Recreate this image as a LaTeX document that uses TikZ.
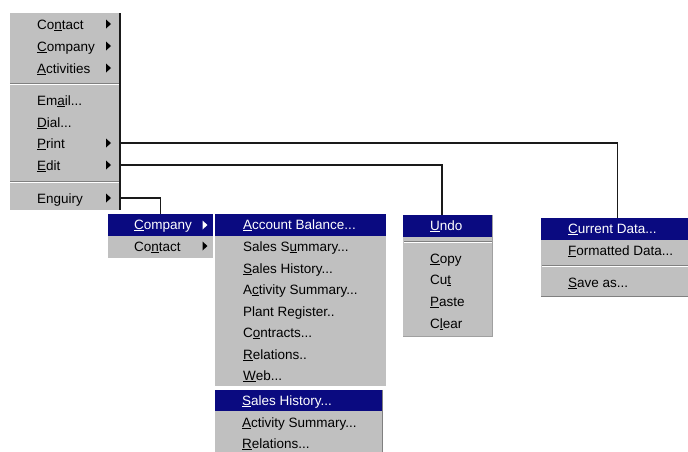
\documentclass[tikz,border=0pt]{standalone}
\usepackage{fontspec}
\setmainfont{Liberation Sans}
\definecolor{mgray}{HTML}{C0C0C0}
\definecolor{mdark}{HTML}{808080}
\definecolor{mmid}{HTML}{A0A0A0}
\definecolor{navy}{HTML}{0A0A80}
\definecolor{wire}{HTML}{1A1A1A}
\newcommand\ak[1]{\underline{#1}}
\tikzset{
  menu/.style={fill=mgray, draw=none, inner sep=0pt, anchor=north west},
  hilite/.style={fill=navy, draw=none, inner sep=0pt, anchor=north west},
  item/.style={anchor=base west, inner sep=0pt, font=\fontsize{13.5}{14}\selectfont, text=black},
  hitem/.style={item, text=white},
  wireline/.style={draw=wire, line width=1.1pt},
  sepdark/.style={draw=mdark, line width=0.8pt},
  seplight/.style={draw=white, line width=0.8pt},
  shade/.style={draw=mdark, line width=1pt},
  softshade/.style={draw=mmid, line width=1pt},
}
\newcommand\subarr[3]{\fill[#3] (#1-2.5,#2-4.5) -- (#1+2.5,#2) -- (#1-2.5,#2+4.5) -- cycle;}
\begin{document}
\begin{tikzpicture}[x=1pt,y=-1pt]
\useasboundingbox (0,0) rectangle (688,451);
\clip (0,0) rectangle (688,451);
\fill[white] (0,0) rectangle (688,451);

% ---------- main menu ----------
\node[menu, minimum width=110pt, minimum height=197pt] (main) at (10,13) {};
\draw[wireline] (120,13) -- (120,210);
\draw[sepdark] (10,83.5) -- (119,83.5);
\draw[seplight] (10,84.6) -- (119,84.6);
\draw[sepdark] (10,181.5) -- (119,181.5);
\draw[seplight] (10,182.6) -- (119,182.6);
\node[item] (mContact) at (37,29) {Co\ak{n}tact};
\node[item] (mCompany) at (37,51) {\ak{C}ompany};
\node[item] (mActivities) at (37,73) {\ak{A}ctivities};
\node[item] (mEmail) at (37,105) {Em\ak{a}il...};
\node[item] (mDial) at (37,127) {\ak{D}ial...};
\node[item] (mPrint) at (37,148) {\ak{P}rint};
\node[item] (mEdit) at (37,170) {\ak{E}dit};
\node[item] (mEnquiry) at (37,203) {Enguiry};
\subarr{108.5}{24}{black}
\subarr{108.5}{46}{black}
\subarr{108.5}{68}{black}
\subarr{108.5}{143}{black}
\subarr{108.5}{165}{black}
\subarr{108.5}{198}{black}
\coordinate (printR) at (120,143);
\coordinate (editR) at (120,165);
\coordinate (enqR) at (120,198);

% ---------- Company / Contact submenu ----------
\node[menu, minimum width=105pt, minimum height=44pt] (sub1) at (108,214) {};
\node[hilite, minimum width=105pt, minimum height=22pt] (sub1hi) at (108,214) {};
\node[hitem] (sCompany) at (134,229) {\ak{C}ompany};
\node[item] (sContact) at (134,251) {Co\ak{n}tact};
\subarr{205}{225}{white}
\subarr{205}{246}{black}

% ---------- Company actions submenu ----------
\node[menu, minimum width=171pt, minimum height=172pt] (sub2) at (215,214) {};
\node[hilite, minimum width=171pt, minimum height=22pt] (sub2hi) at (215,214) {};
\node[hitem] (cAccount) at (243,229) {\ak{A}ccount Balance...};
\node[item] (cSalesSum) at (243,251) {Sales S\ak{u}mmary...};
\node[item] (cSalesHist) at (243,273) {\ak{S}ales History...};
\node[item] (cActivity) at (243,294) {A\ak{c}tivity Summary...};
\node[item] (cPlant) at (243,316) {Plant Register..};
\node[item] (cContracts) at (243,337) {C\ak{o}ntracts...};
\node[item] (cRelations) at (243,359) {\ak{R}elations..};
\node[item] (cWeb) at (243,380) {\ak{W}eb...};

% ---------- Contact actions submenu ----------
\node[menu, minimum width=168pt, minimum height=70pt] (sub3) at (215,390) {};
\node[hilite, minimum width=168pt, minimum height=21pt] (sub3hi) at (215,390) {};
\draw[shade] (382.5,390) -- (382.5,460);
\node[hitem] (tSalesHist) at (242,405) {\ak{S}ales History...};
\node[item] (tActivity) at (242,427) {\ak{A}ctivity Summary...};
\node[item] (tRelations) at (242,448) {\ak{R}elations...};

% ---------- Edit submenu ----------
\node[menu, minimum width=90pt, minimum height=122pt] (editmenu) at (403,215) {};
\node[hilite, minimum width=90pt, minimum height=22pt] (edithi) at (403,215) {};
\draw[softshade] (492.5,215) -- (492.5,336.5) -- (403,336.5);
\draw[sepdark] (404,241.5) -- (492,241.5);
\draw[seplight] (404,242.6) -- (492,242.6);
\node[hitem] (eUndo) at (430,230) {\ak{U}ndo};
\node[item] (eCopy) at (430,263) {\ak{C}opy};
\node[item] (eCut) at (430,284) {Cu\ak{t}};
\node[item] (ePaste) at (430,306) {\ak{P}aste};
\node[item] (eClear) at (430,328) {C\ak{l}ear};
\coordinate (editdrop) at (442,215);

% ---------- Print submenu ----------
\node[menu, minimum width=152pt, minimum height=79pt] (printmenu) at (541,218) {};
\node[hilite, minimum width=152pt, minimum height=22pt] (printhi) at (541,218) {};
\draw[shade] (541,296.5) -- (693,296.5);
\draw[sepdark] (542,265.5) -- (693,265.5);
\draw[seplight] (542,266.6) -- (693,266.6);
\node[hitem] (pCurrent) at (568,233) {\ak{C}urrent Data...};
\node[item] (pFormatted) at (568,255) {\ak{F}ormatted Data...};
\node[item] (pSave) at (568,287) {\ak{S}ave as...};

% ---------- connectors ----------
\draw[wireline] (printR) -| (printmenu.north);
\draw[wireline] (editR) -| (editdrop);
\draw[wireline] (enqR) -| (sub1.north);
\end{tikzpicture}
\end{document}
